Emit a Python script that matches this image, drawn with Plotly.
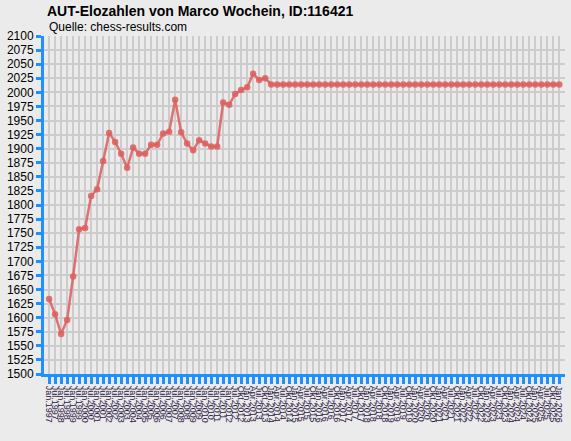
import plotly.graph_objs as go

# rating lists: semi-annual until mid 2012, quarterly afterwards
halfyear_months = ["Jan", "Jul"]
quarter_months = ["Jan", "Apr", "Jul", "Okt"]

dates = []
for year in range(1997, 2013):
    for m in halfyear_months:
        dates.append("{}.{}".format(m, year))
dates.append("Okt.2012")
for year in range(2013, 2026):
    for m in quarter_months:
        dates.append("{}.{}".format(m, year))
dates.append("Jan.2026")

elo = [1633, 1606, 1571, 1596, 1673, 1757, 1759, 1816, 1828, 1878,
       1928, 1912, 1891, 1866, 1902, 1891, 1891, 1907, 1907, 1927,
       1930, 1987, 1929, 1909, 1897, 1915, 1909, 1904, 1904, 1982,
       1978, 1997, 2004, 2009, 2033, 2022, 2025] + [2014] * 49

y_ticks = list(range(1500, 2101, 25))

blue = "rgb(30,144,255)"
grid = "rgb(204,204,204)"
bg = "rgb(235,235,235)"

trace = go.Scatter(x=dates, y=elo, mode="lines+markers",
                   line=dict(color="rgba(222,96,96,0.88)", width=2.5),
                   marker=dict(color="rgba(222,96,96,0.88)", size=6.5),
                   hoverinfo="x+y")

layout = go.Layout(
    width=571, height=441,
    margin=dict(l=44, r=6, t=36, b=67),
    paper_bgcolor=bg, plot_bgcolor=bg,
    showlegend=False,
    font=dict(family="Liberation Sans, Arial", color="black"),
    title=dict(text="<b>AUT-Elozahlen von Marco Wochein, ID:116421</b>",
               font=dict(size=14, color="black"),
               xref="container", x=47 / 571, xanchor="left",
               yref="container", y=1 - 11 / 441, yanchor="middle"),
    annotations=[dict(text="Quelle: chess-results.com", showarrow=False,
                      xref="paper", yref="paper", x=3 / 521, y=1 + 9 / 338,
                      xanchor="left", yanchor="middle",
                      font=dict(size=12, color="black"))],
    xaxis=dict(type="category", range=[-0.85, len(dates) - 1 + 0.95],
               tickmode="array", tickvals=dates, ticktext=dates,
               automargin=False,
               showgrid=True, gridcolor=grid, gridwidth=1.6,
               showline=True, linecolor=blue, linewidth=3,
               ticks="outside", tickcolor=blue, tickwidth=3, ticklen=7,
               tickangle=90, tickfont=dict(size=9, color="rgb(40,20,60)"),
               zeroline=False),
    yaxis=dict(range=[1500, 2100], tickvals=y_ticks, automargin=False,
               showgrid=True, gridcolor=grid, gridwidth=1.6,
               showline=True, linecolor=blue, linewidth=3,
               ticks="outside", tickcolor=blue, tickwidth=3, ticklen=5,
               tickfont=dict(size=12, color="black"), zeroline=False),
)

fig = go.Figure(data=[trace], layout=layout)
# page body has a default 8px margin, drop it so the chart sits at 0,0
fig.write_html("out.html", config={"displayModeBar": False},
               post_script="document.body.style.margin='0';")
